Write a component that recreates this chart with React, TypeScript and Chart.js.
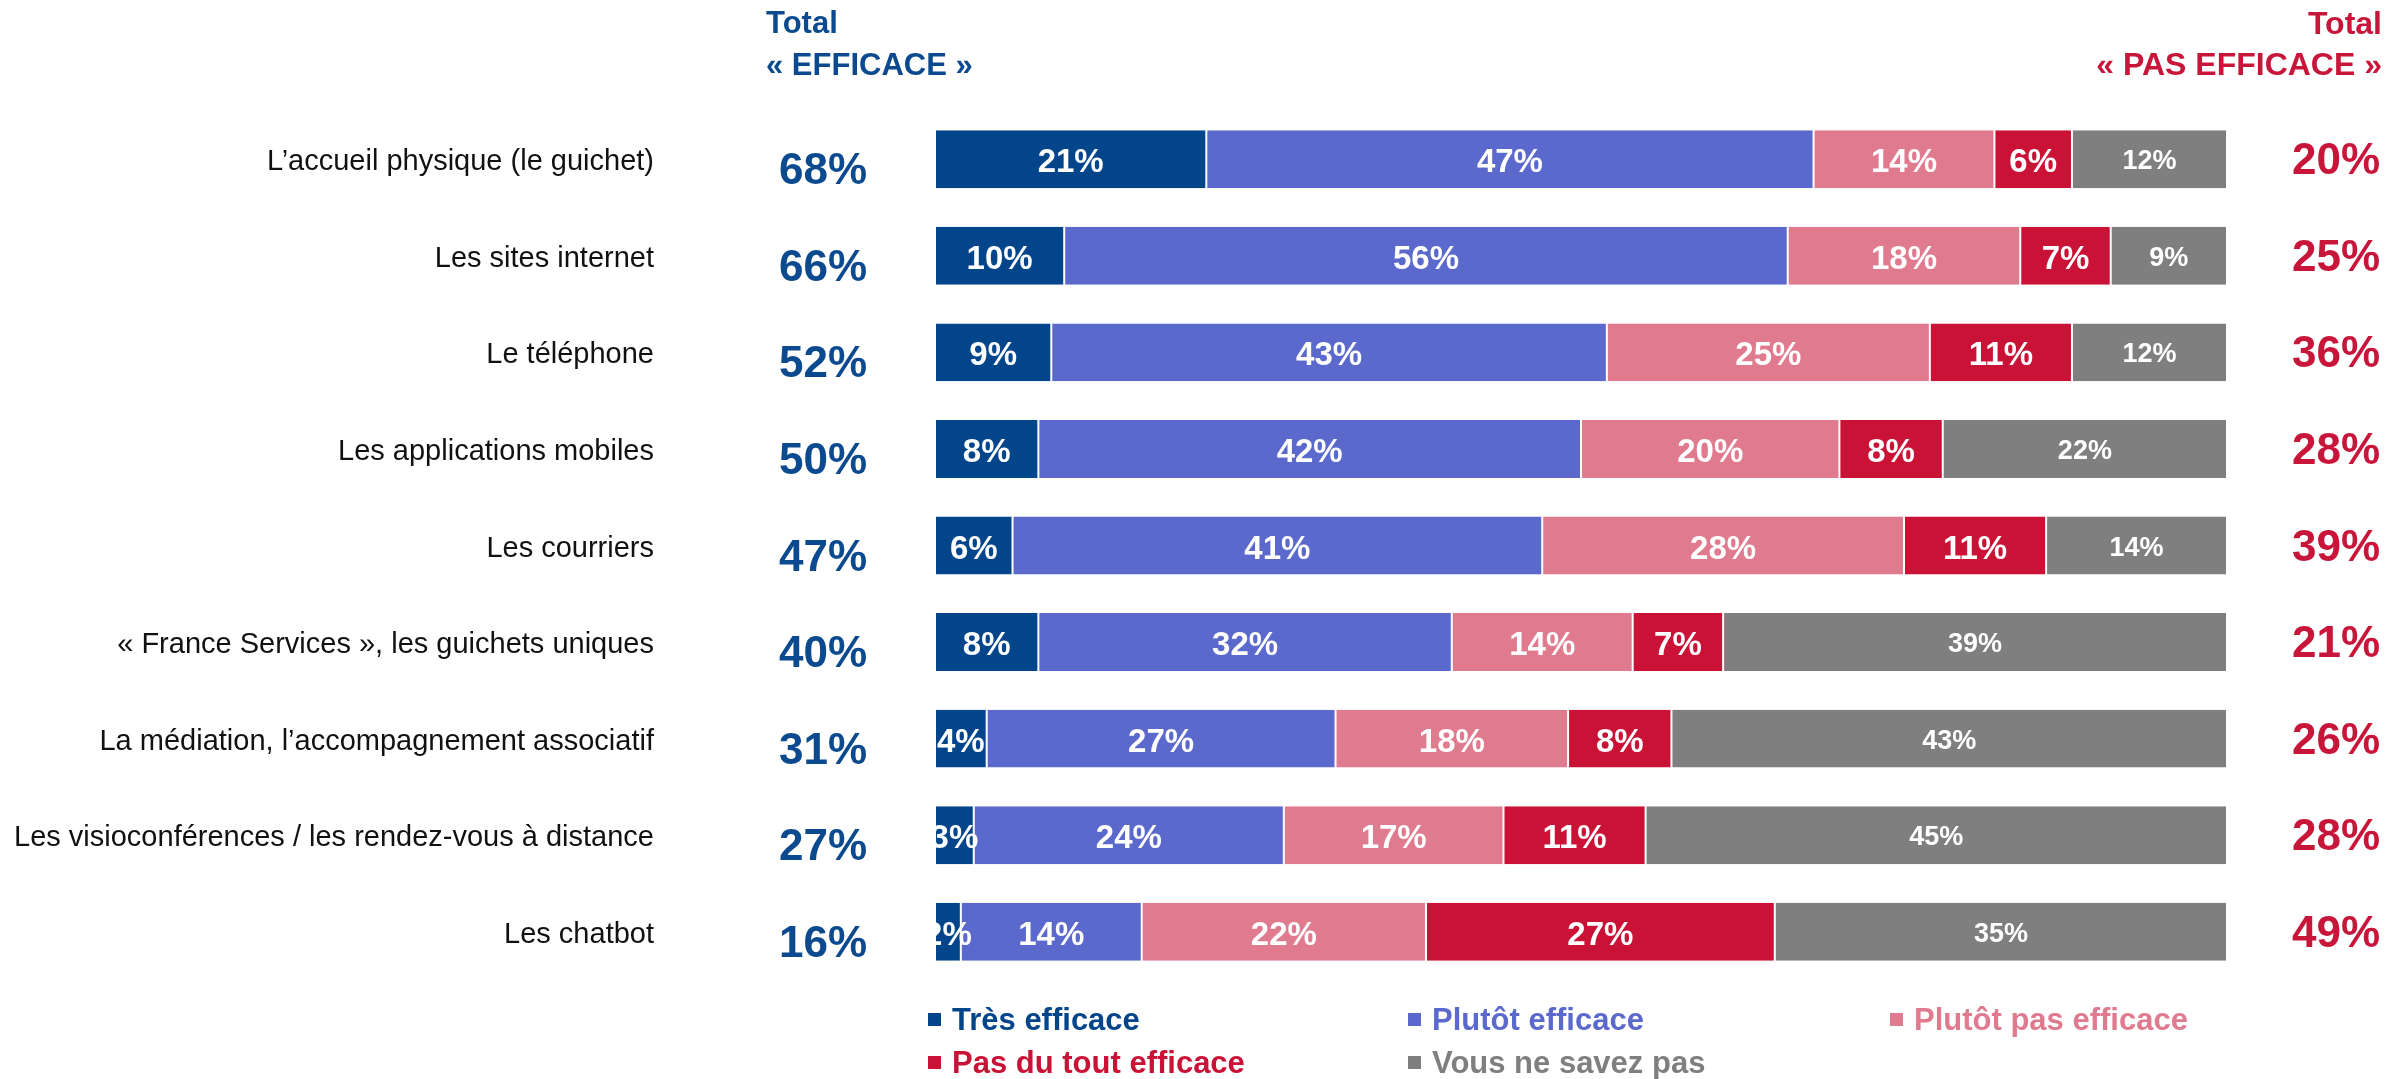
import React, { useEffect, useRef } from "react";
import { Chart, registerables } from "chart.js";

Chart.register(...registerables);

const categories = [
  "L’accueil physique (le guichet)",
  "Les sites internet",
  "Le téléphone",
  "Les applications mobiles",
  "Les courriers",
  "« France Services », les guichets uniques",
  "La médiation, l’accompagnement associatif",
  "Les visioconférences / les rendez-vous à distance",
  "Les chatbot",
];

const tresEfficace = [21, 10, 9, 8, 6, 8, 4, 3, 2];
const plutotEfficace = [47, 56, 43, 42, 41, 32, 27, 24, 14];
const plutotPasEfficace = [14, 18, 25, 20, 28, 14, 18, 17, 22];
const pasDuToutEfficace = [6, 7, 11, 8, 11, 7, 8, 11, 27];
const neSaitPas = [12, 9, 12, 22, 14, 39, 43, 45, 35];

const totalEfficace = [68, 66, 52, 50, 47, 40, 31, 27, 16];
const totalPasEfficace = [20, 25, 36, 28, 39, 21, 26, 28, 49];

const seriesNames = [
  "Très efficace",
  "Plutôt efficace",
  "Plutôt pas efficace",
  "Pas du tout efficace",
  "Vous ne savez pas",
];
const seriesColors = ["#02458B", "#5B69CC", "#E07A8F", "#C91235", "#7F7F7F"];

const BLUE = "#0B4A8F";
const RED = "#C8163A";
const FONT = "'Liberation Sans', Arial, sans-serif";

const overlayPlugin = {
  id: "overlay",
  afterDatasetsDraw(chart: any) {
    const ctx = chart.ctx;
    const yScale = chart.scales.y;
    ctx.save();

    // data labels in bars
    chart.data.datasets.forEach((ds: any, di: number) => {
      const meta = chart.getDatasetMeta(di);
      meta.data.forEach((bar: any, i: number) => {
        const v = ds.data[i];
        const cx = (bar.x + bar.base) / 2;
        const size = di === 4 ? 27 : 33;
        ctx.font = `bold ${size}px ${FONT}`;
        ctx.fillStyle = "#FFFFFF";
        ctx.textAlign = "center";
        ctx.textBaseline = "alphabetic";
        ctx.fillText(`${v}%`, cx, bar.y + (di === 4 ? 10 : 13));
      });
    });

    // category labels and totals
    categories.forEach((c, i) => {
      const y = yScale.getPixelForValue(i);
      ctx.textBaseline = "alphabetic";
      ctx.font = `29px ${FONT}`;
      ctx.fillStyle = "#111111";
      ctx.textAlign = "right";
      ctx.fillText(c, 654, y + 11);

      ctx.font = `bold 44px ${FONT}`;
      ctx.fillStyle = BLUE;
      ctx.textAlign = "center";
      ctx.fillText(`${totalEfficace[i]}%`, 823, y + 25);

      ctx.fillStyle = RED;
      ctx.textAlign = "right";
      ctx.fillText(`${totalPasEfficace[i]}%`, 2380, y + 15);
    });

    // headers
    ctx.font = `bold 31px ${FONT}`;
    ctx.textBaseline = "alphabetic";
    ctx.fillStyle = BLUE;
    ctx.textAlign = "left";
    ctx.fillText("Total", 766, 33);
    ctx.fillText("« EFFICACE »", 766, 75);
    ctx.fillStyle = RED;
    ctx.textAlign = "right";
    ctx.font = `bold 32px ${FONT}`;
    ctx.fillText("Total", 2382, 34);
    ctx.fillText("« PAS EFFICACE »", 2382, 75);

    // legend
    const legendPos = [
      [928, 1030],
      [1408, 1030],
      [1890, 1030],
      [928, 1073],
      [1408, 1073],
    ];
    ctx.font = `bold 31px ${FONT}`;
    ctx.textAlign = "left";
    seriesNames.forEach((n, i) => {
      const [lx, ly] = legendPos[i];
      ctx.fillStyle = seriesColors[i];
      ctx.fillRect(lx, ly - 17, 13, 13);
      ctx.fillText(n, lx + 24, ly);
    });

    ctx.restore();
  },
};

export default function App() {
  const ref = useRef<HTMLCanvasElement | null>(null);

  useEffect(() => {
    if (!ref.current) return;
    const seriesData = [tresEfficace, plutotEfficace, plutotPasEfficace, pasDuToutEfficace, neSaitPas];
    const chart = new Chart(ref.current, {
      type: "bar",
      data: {
        labels: categories,
        datasets: seriesNames.map((n, i) => ({
          label: n,
          data: seriesData[i],
          backgroundColor: seriesColors[i],
          borderColor: "#FFFFFF",
          borderWidth: { left: 1, right: 1, top: 0, bottom: 0 },
          borderSkipped: false,
          barPercentage: 0.6,
          categoryPercentage: 1,
        })),
      },
      options: {
        indexAxis: "y",
        responsive: false,
        maintainAspectRatio: false,
        animation: false,
        layout: { padding: { left: 935, right: 173, top: 111, bottom: 99 } },
        scales: {
          x: { stacked: true, min: 0, max: 100, display: false },
          y: { stacked: true, display: false },
        },
        plugins: {
          legend: { display: false },
          tooltip: { enabled: false },
        },
      },
      plugins: [overlayPlugin],
    } as any);
    return () => chart.destroy();
  }, []);

  return (
    <div style={{ position: "fixed", left: 0, top: 0, width: 2400, height: 1079, background: "#fff" }}>
      <canvas ref={ref} width={2400} height={1079} style={{ width: 2400, height: 1079 }} />
    </div>
  );
}
